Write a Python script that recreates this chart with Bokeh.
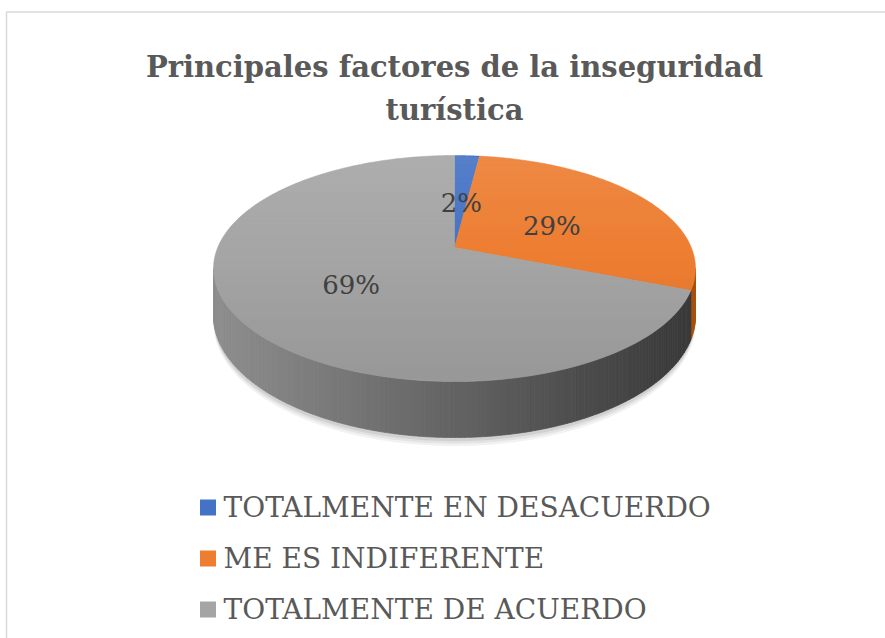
import numpy as np
from bokeh.plotting import figure
from bokeh.models import Range1d
from bokeh.core.properties import value
from bokeh.embed import file_html
from bokeh.resources import INLINE

# ---------------- data ----------------
title_lines = ["Principales factores de la inseguridad", "turística"]
categories = ["TOTALMENTE EN DESACUERDO", "ME ES INDIFERENTE", "TOTALMENTE DE ACUERDO"]
shares = [2, 29, 69]
pct_labels = ["2%", "29%", "69%"]

# ---------------- style ----------------
top_colors = ["#4472c4", "#ed7d31", "#a5a5a5"]
side_light = ["#3d66b0", "#d06a24", "#8e8e8e"]
side_dark = ["#2a4a85", "#a8520f", "#383838"]
legend_colors = ["#4472c4", "#ed7d31", "#a5a5a5"]
TEXT = "#595959"
FONT = "DejaVu Serif"

W, H = 885, 638
p = figure(width=W, height=H, x_range=Range1d(0, W), y_range=Range1d(H, 0),
           output_backend="svg", toolbar_location=None, min_border=0,
           x_axis_location=None, y_axis_location=None)
p.grid.visible = False
p.outline_line_color = None
p.background_fill_color = "white"
p.border_fill_color = "white"

CX, CY = 454.0, 247.0
A, B, D, TH = 236.8, 109.1, 5.38, 45.6


def proj(theta, r=1.0, depth=0.0):
    u = r * np.sin(theta)
    v = -r * np.cos(theta)
    s = D / (D - v)
    return CX + A * u * s, CY + B * v * s + depth * s


def lerp_hex(c1, c2, t):
    a = [int(c1[i:i + 2], 16) for i in (1, 3, 5)]
    b = [int(c2[i:i + 2], 16) for i in (1, 3, 5)]
    return "#%02x%02x%02x" % tuple(int(round(a[k] + (b[k] - a[k]) * t)) for k in range(3))


total = float(sum(shares))
bounds = np.concatenate([[0.0], np.cumsum(shares) / total * 2 * np.pi])

th_r = np.arccos(-1.0 / D)
th_l = 2 * np.pi - th_r
xl, _ = proj(th_l)
xr, _ = proj(th_r)

# soft shadow
full = np.linspace(0, 2 * np.pi, 240)
for k, a in ((7, 0.05), (5, 0.06), (3, 0.08)):
    sx, sy = proj(full, 1.0, TH + k)
    p.patch(sx, sy, fill_color="#000000", fill_alpha=a, line_color=None)

# side faces
for i in range(len(shares)):
    a0, a1 = max(bounds[i], th_r), min(bounds[i + 1], th_l)
    if a1 <= a0:
        continue
    n = max(2, int(np.degrees(a1 - a0)))
    ts = np.linspace(a0, a1, n + 1)
    xs_list, ys_list, cols = [], [], []
    for j in range(n):
        seg = np.linspace(ts[j], ts[j + 1], 4)
        tx, ty = proj(seg)
        bx, by = proj(seg[::-1], 1.0, TH)
        xs_list.append(list(np.concatenate([tx, bx])))
        ys_list.append(list(np.concatenate([ty, by])))
        xm = 0.5 * (tx[0] + tx[-1])
        t = min(max((xm - xl) / (xr - xl), 0.0), 1.0)
        cols.append(lerp_hex(side_light[i], side_dark[i], t))
    p.patches(xs_list, ys_list, fill_color=cols, line_color=cols, line_width=0.8)

# top faces
for i in range(len(shares)):
    arc = np.linspace(bounds[i], bounds[i + 1], 200)
    ax, ay = proj(arc)
    p.patch(np.concatenate([[CX], ax]), np.concatenate([[CY], ay]),
            fill_color=top_colors[i], line_color=top_colors[i], line_width=0.5)

# vertical light-to-dark shading over the top face
ring = np.linspace(0, 2 * np.pi, 721)
rx, ry = proj(ring)
ytop, ybot = ry.min(), ry.max()


def span_at(y):
    xs = []
    for k in range(len(rx) - 1):
        y0, y1 = ry[k], ry[k + 1]
        if (y0 - y) * (y1 - y) <= 0 and y0 != y1:
            xs.append(rx[k] + (rx[k + 1] - rx[k]) * (y - y0) / (y1 - y0))
    return (min(xs), max(xs)) if xs else (CX, CX)


edges = np.linspace(ytop + 0.01, ybot - 0.01, 90)
sxs, sys_, scol, salpha = [], [], [], []
for k in range(len(edges) - 1):
    y0, y1 = edges[k], edges[k + 1]
    l0, r0 = span_at(y0)
    l1, r1 = span_at(y1)
    t = (0.5 * (y0 + y1) - ytop) / (ybot - ytop)
    sxs.append([l0, r0, r1, l1])
    sys_.append([y0, y0, y1, y1])
    if t < 0.45:
        scol.append("#ffffff")
        salpha.append(0.10 * (0.45 - t) / 0.45)
    else:
        scol.append("#000000")
        salpha.append(0.08 * (t - 0.45) / 0.55)
p.patches(sxs, sys_, fill_color=scol, fill_alpha=salpha, line_color=None)

# data labels
mids = 0.5 * (bounds[:-1] + bounds[1:])
lx, ly = proj(mids, 0.5)
p.text(x=list(lx), y=list(ly + 5), text=pct_labels, text_font=value(FONT),
       text_font_size="26px", text_color="#404040", text_align="center",
       text_baseline="middle")

# title
p.text(x=[454, 454], y=[66, 109], text=title_lines, text_font=value(FONT),
       text_font_style="bold", text_font_size="29px", text_color=TEXT,
       text_align="center", text_baseline="alphabetic")

# legend
rows_y = [507 + 51 * k for k in range(len(categories))]
p.rect(x=[207.5] * len(categories), y=rows_y, width=16, height=16,
       fill_color=legend_colors, line_color=None)
p.text(x=[223] * len(categories), y=rows_y, text=categories,
       text_font=value(FONT), text_font_size="28px", text_color=TEXT,
       text_align="left", text_baseline="middle")

# chart area border
p.line(x=[6, 6, 885], y=[638, 11.5, 11.5], line_color="#d9d9d9", line_width=1.5)

open("out.html", "w").write(file_html(p, INLINE))
